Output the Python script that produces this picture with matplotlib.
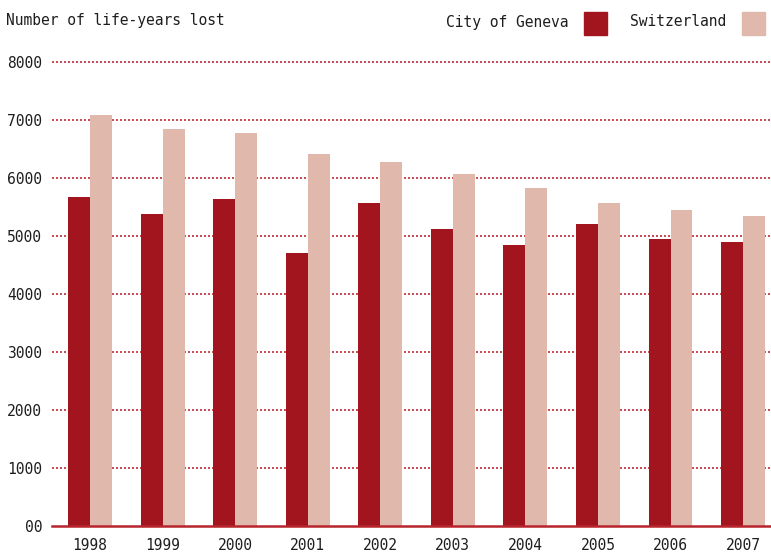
import matplotlib.pyplot as plt
import numpy as np

# --- Data ---
years = ["1998", "1999", "2000", "2001", "2002", "2003", "2004", "2005", "2006", "2007"]
geneva = [5667, 5386, 5633, 4702, 5564, 5116, 4840, 5210, 4952, 4900]
switzerland = [7081, 6840, 6771, 6409, 6271, 6064, 5822, 5571, 5451, 5348]
y_ticks = [0, 1000, 2000, 3000, 4000, 5000, 6000, 7000, 8000]
y_tick_labels = ["00", "1000", "2000", "3000", "4000", "5000", "6000", "7000", "8000"]

# --- Style ---
geneva_colour = "#A3151E"
swiss_colour = "#E0B8AC"
grid_colour = "#C22A33"
text_colour = "#1e1e1e"
plt.rcParams.update({"font.family": "DejaVu Sans Mono", "font.size": 10.5})

W, H = 771, 554
fig = plt.figure(figsize=(W / 100, H / 100), dpi=100)
ax = fig.add_axes([52 / W, (H - 526) / H, (W - 52) / W, (526 - 62) / H])

x = np.arange(len(years))
width = 0.303
ax.bar(x - width / 2, geneva, width, color=geneva_colour, zorder=2)
ax.bar(x + width / 2, switzerland, width, color=swiss_colour, zorder=2)

# dotted gridlines behind the bars
for t in y_ticks[1:]:
    ax.axhline(t, color=grid_colour, lw=1.2, linestyle=(0, (1.2, 1.2)), zorder=1,
               clip_on=False)
ax.axhline(0, color="#B8242C", lw=1.8, zorder=3, clip_on=False)

ax.set_xlim(-0.524, -0.524 + (W - 52) / 72.56)
ax.set_ylim(0, 8000)
for s in ax.spines.values():
    s.set_visible(False)

ax.set_xticks(x)
ax.set_xticklabels(years, color=text_colour)
ax.set_yticks(y_ticks)
ax.set_yticklabels(y_tick_labels, color=text_colour)
ax.tick_params(axis="both", length=0)
ax.tick_params(axis="x", pad=9)
ax.tick_params(axis="y", pad=7)

# title and legend as figure text
fig.text(6 / W, 1 - 21 / H, "Number of life-years lost", color=text_colour,
         ha="left", va="center")
fig.text(568 / W, 1 - 22 / H, "City of Geneva", color=text_colour, ha="right", va="center")
fig.text(726 / W, 1 - 22 / H, "Switzerland", color=text_colour, ha="right", va="center")
fig.patches.append(plt.Rectangle((584 / W, 1 - 35 / H), 23 / W, 23 / H,
                                 transform=fig.transFigure, color=geneva_colour))
fig.patches.append(plt.Rectangle((742 / W, 1 - 35 / H), 23 / W, 23 / H,
                                 transform=fig.transFigure, color=swiss_colour))

fig.savefig("out.png", dpi=100)
